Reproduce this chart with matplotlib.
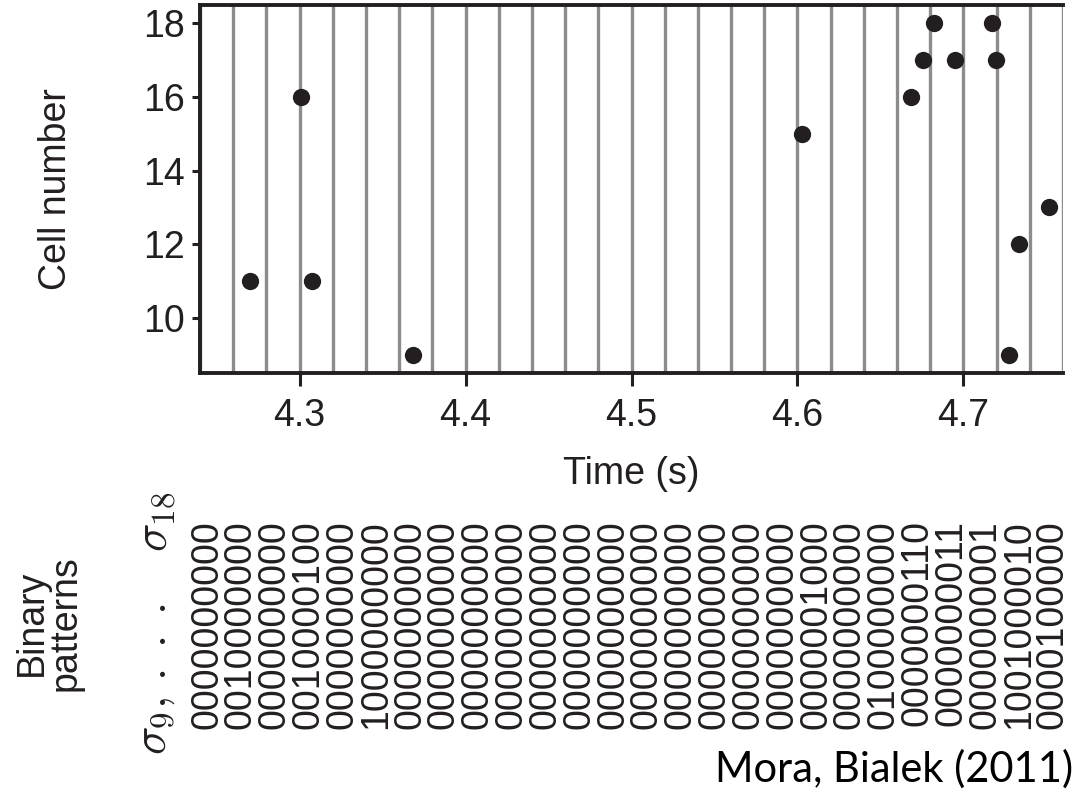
import numpy as np
import matplotlib
matplotlib.use('Agg')
import matplotlib.pyplot as plt

plt.rcParams['font.family'] = ['Liberation Sans', 'DejaVu Sans']
plt.rcParams['mathtext.fontset'] = 'cm'

INK = '#231f20'
GRID = '#8c8c8c'

# spike raster: (time in s, cell index)
spike_times = [4.270, 4.3006, 4.3074, 4.3683, 4.603, 4.6683, 4.6758, 4.6822,
               4.6948, 4.7174, 4.7196, 4.7276, 4.7332, 4.7516]
spike_cells = [11, 16, 11, 9, 15, 16, 17, 18, 17, 18, 17, 9, 12, 13]

# 20 ms bins
t_start = 4.24
bin_width = 0.02

# binary words per bin, sigma_9 first
patterns = ['0000000000', '0010000000', '0000000000', '0010000100',
            '0000000000', '1000000000', '0000000000', '0000000000',
            '0000000000', '0000000000', '0000000000', '0000000000',
            '0000000000', '0000000000', '0000000000', '0000000000',
            '0000000000', '0000000000', '0000001000', '0000000000',
            '0100000000', '0000000110', '0000000011', '0000000001',
            '1001000010', '0000100000']

xticks = [4.3, 4.4, 4.5, 4.6, 4.7]
yticks = [10, 12, 14, 16, 18]

W, H = 1085, 793
fig = plt.figure(figsize=(W / 100, H / 100), dpi=100)

# --- raster ---
ax = fig.add_axes([200 / W, 1 - 373 / H, 863 / W, 368 / H])
n_bins = len(patterns)
edges = t_start + bin_width * np.arange(n_bins + 1)
ax.vlines(edges, 8.5, 18.5, colors=GRID, lw=2.4, zorder=1)
ax.scatter(spike_times, spike_cells, s=155, color=INK, zorder=3, linewidths=0)

ax.set_xlim(edges[0], edges[-1])
ax.set_ylim(8.5, 18.5)
ax.set_xticks(xticks)
ax.set_xticklabels([f'{t:.1f}' for t in xticks])
ax.set_yticks(yticks)
for side in ['left', 'bottom', 'top']:
    ax.spines[side].set_color(INK)
    ax.spines[side].set_linewidth(2.8)
ax.spines['right'].set_visible(False)
ax.tick_params(axis='x', length=9, width=2.2, pad=9, labelsize=27,
               colors=INK)
ax.tick_params(axis='y', length=6, width=2.2, pad=5, labelsize=27,
               colors=INK)
ax.set_xlabel('Time (s)', fontsize=27, color=INK, labelpad=16)
ax.set_ylabel('Cell number', fontsize=27, color=INK, labelpad=50)

# --- binary words ---
bx = fig.add_axes([200 / W, 0, 863 / W, 1], frameon=False)
bx.set_xlim(-0.207, 25.3)
bx.set_ylim(H, 0)
bx.set_xticks([])
bx.set_yticks([])
for k, word in enumerate(patterns):
    bx.text(k, 520, word, rotation=90, ha='center', va='top',
            fontsize=27, color=INK)

fig.text(49 / W, 1 - 623 / H, 'Binary\npatterns', rotation=90,
         ha='center', va='center', fontsize=27, color=INK, linespacing=0.92)
fig.text(155 / W, 1 - 755 / H, r'$\sigma_9,\,.\;.\;.$', rotation=90,
         ha='center', va='bottom', fontsize=34, color=INK)
fig.text(155 / W, 1 - 491 / H, r'$\sigma_{18}$', rotation=90,
         ha='center', va='top', fontsize=34, color=INK)

fig.text(1073 / W, 1 - 782 / H, 'Mora, Bialek (2011)', ha='right',
         va='baseline', fontsize=30, family=['Lato', 'DejaVu Sans'],
         color='black')

fig.savefig('out.png', dpi=100, facecolor='white')
